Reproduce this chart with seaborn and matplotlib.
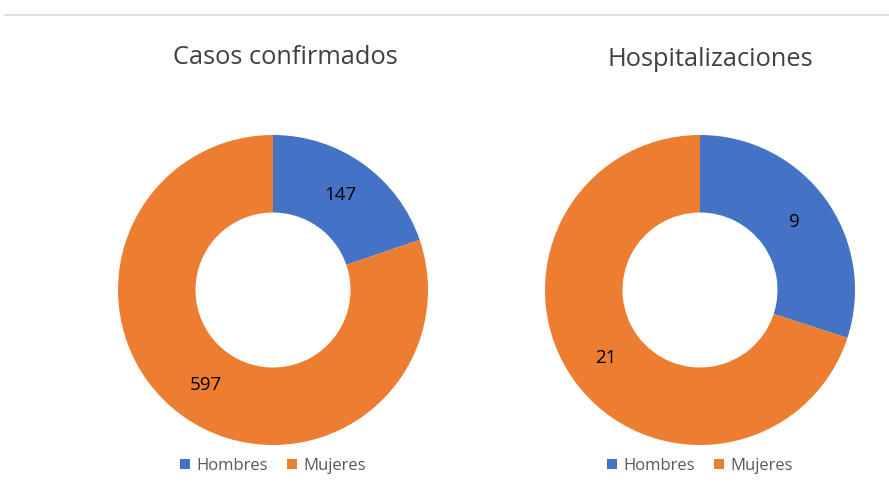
import matplotlib
matplotlib.use("Agg")
import matplotlib.pyplot as plt
import seaborn as sns
from matplotlib.patches import Patch
from matplotlib.lines import Line2D

# Data
categories = ["Hombres", "Mujeres"]
casos = [147, 597]
hospitalizaciones = [9, 21]
titles = ["Casos confirmados", "Hospitalizaciones"]

sns.set_theme(style="white")
plt.rcParams["font.family"] = ["Open Sans", "DejaVu Sans"]
colors = ["#4472C4", "#ED7D31"]

W, H = 889, 490
fig = plt.figure(figsize=(W / 100, H / 100), dpi=100)

def add_donut(cx, cy, r, values, title, title_xy):
    ax = fig.add_axes([(cx - r) / W, 1 - (cy + r) / H, 2 * r / W, 2 * r / H])
    wedges, texts, autotexts = ax.pie(
        values, colors=colors, startangle=90, counterclock=False,
        radius=1.0, wedgeprops=dict(width=0.5, edgecolor="none"),
        autopct=lambda p: "{:.0f}".format(round(p * sum(values) / 100.0)),
        pctdistance=0.75, textprops=dict(fontsize=13.5, color="black"))
    ax.set_xlim(-1, 1)
    ax.set_ylim(-1, 1)
    ax.set_aspect("equal")
    ax.axis("off")
    fig.text(title_xy[0] / W, 1 - title_xy[1] / H, title, ha="center", va="center",
             fontsize=18.3, color="#404040")
    handles = [Patch(facecolor=c, edgecolor="none") for c in colors]
    fig.legend(handles, categories, loc="center", bbox_to_anchor=(cx / W, 1 - 466 / H),
               ncol=2, frameon=False, fontsize=12, labelcolor="#595959",
               handlelength=0.6, handleheight=0.6, handletextpad=0.4, columnspacing=1.1)

add_donut(273, 290, 155, casos, titles[0], (285, 58))
add_donut(700, 290, 155, hospitalizaciones, titles[1], (710, 60))

# top separator line
fig.add_artist(Line2D([5 / W, 1.0], [1 - 15 / H, 1 - 15 / H], color="#D9D9D9", lw=1.2))

fig.savefig("out.png", dpi=100, facecolor="white")
